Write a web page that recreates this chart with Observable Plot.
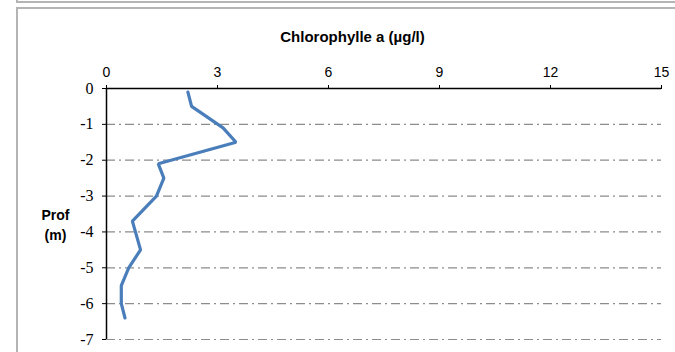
<!DOCTYPE html>
<html>
<head>
<meta charset="utf-8">
<script src="https://cdn.jsdelivr.net/npm/d3@7"></script>
<script src="https://cdn.jsdelivr.net/npm/@observablehq/plot@0.6"></script>
<style>
  html, body { margin: 0; padding: 0; background: #fff; overflow: hidden; }
  #wrap { position: relative; width: 675px; height: 352px; }
  .frame-prev { position: absolute; left: 16px; top: -17px; width: 700px; height: 20px; border: 2px solid #b4b4b4; box-sizing: border-box; border-top: none; }
  .frame { position: absolute; left: 16px; top: 7px; width: 700px; height: 400px; border: 2px solid #b4b4b4; box-sizing: border-box; }
  #chart { position: absolute; left: 0; top: 0; }
</style>
</head>
<body>
<div id="wrap">
  <div class="frame-prev"></div>
  <div class="frame"></div>
  <div id="chart"></div>
</div>
<script>
// Chlorophyll a profile versus depth
const chlorophyll = [2.2, 2.3, 3.15, 3.5, 1.4, 1.55, 1.35, 0.7, 0.92, 0.6, 0.4, 0.4, 0.5];
const depth = [-0.1, -0.5, -1.1, -1.5, -2.1, -2.5, -3.0, -3.7, -4.5, -5.0, -5.5, -6.0, -6.4];
const xTicks = [0, 3, 6, 9, 12, 15];
const yTicks = [0, -1, -2, -3, -4, -5, -6, -7];
const gridDepths = [-1, -2, -3, -4, -5, -6, -7];
const title = "Chlorophylle a (µg/l)";
const yTitle = ["Prof", "(m)"];

const profile = depth.map((d, i) => ({depth: d, chl: chlorophyll[i]}));

const sans = "Liberation Sans";
const serif = "Liberation Serif";

const chart = Plot.plot({
  width: 675,
  height: 352,
  marginLeft: 106,
  marginRight: 14,
  marginTop: 88,
  marginBottom: 13,
  style: {background: "transparent", overflow: "visible"},
  x: {domain: [0, 15]},
  y: {domain: [-7, 0]},
  marks: [
    // dash-dot horizontal gridlines
    Plot.ruleY(gridDepths, {stroke: "#8c8c8c", strokeWidth: 1.2, strokeDasharray: "9,4,2,4"}),
    // top axis: ticks and labels
    Plot.axisX(xTicks, {
      anchor: "top", tickSize: 4, tickPadding: 8, stroke: "#000",
      fontSize: 14, fontFamily: sans, fill: "#000", label: null
    }),
    // left axis: ticks and serif labels with plain hyphen minus
    Plot.axisY(yTicks, {
      anchor: "left", tickSize: 4, tickPadding: 9, stroke: "#000",
      fontSize: 16, fontFamily: serif, fill: "#000", label: null,
      tickFormat: d => String(d)
    }),
    Plot.ruleY([0], {stroke: "#000", strokeWidth: 1.5}),
    Plot.ruleX([0], {stroke: "#000", strokeWidth: 1.5}),
    // profile line
    Plot.line(profile, {x: "chl", y: "depth", stroke: "#4a7ebb", strokeWidth: 3.2, strokeLinejoin: "miter", curve: "linear"}),
    // titles
    Plot.text([title], {
      frameAnchor: "top-left", dx: 246, dy: -57, text: d => d,
      textAnchor: "middle", fontWeight: "bold", fontSize: 15, fontFamily: sans, fill: "#000"
    }),
    Plot.text([yTitle.join("\n")], {
      frameAnchor: "top-left", dx: -51, dy: 118, text: d => d,
      textAnchor: "middle", lineHeight: 1.4, fontWeight: "bold", fontSize: 14, fontFamily: sans, fill: "#000"
    })
  ]
});

document.getElementById("chart").appendChild(chart);
</script>
</body>
</html>
